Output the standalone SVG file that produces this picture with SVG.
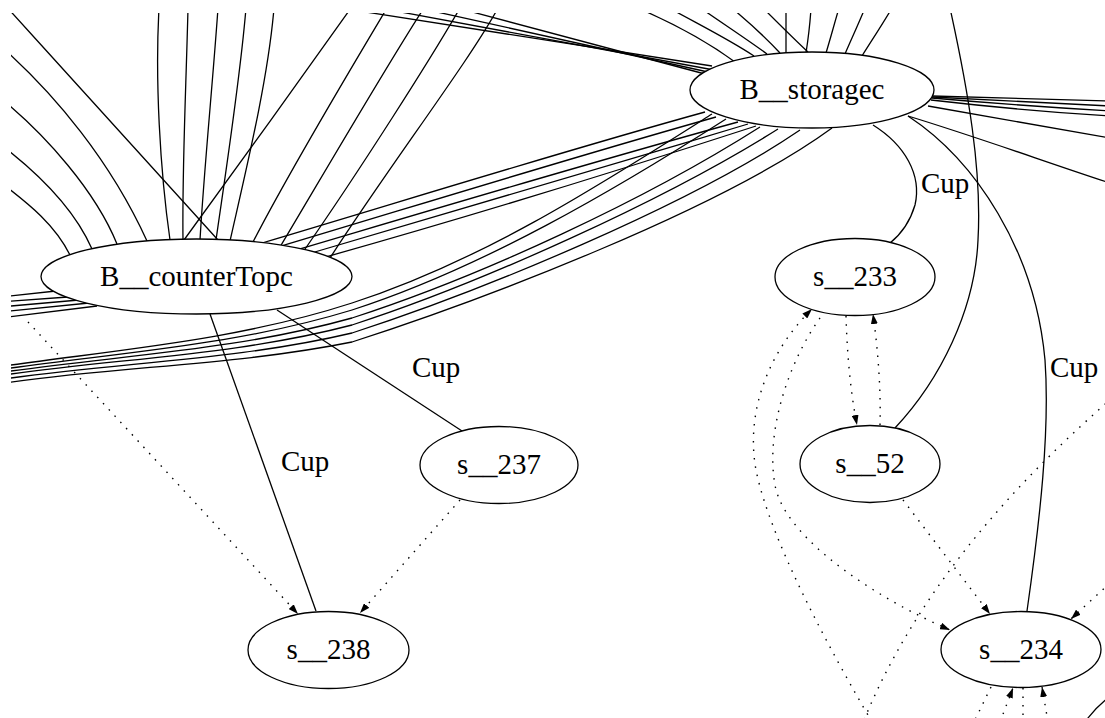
<svg xmlns="http://www.w3.org/2000/svg" width="1105" height="718" viewBox="0 0 1105 718">
  <style>
    .e { fill: none; stroke: #000; stroke-width: 1.3; }
    .d { fill: none; stroke: #000; stroke-width: 1.4; stroke-dasharray: 1.5 7; }
    .n ellipse { fill: #fff; stroke: #000; stroke-width: 1.3; }
    .n text { font-family: "Liberation Serif", "Times New Roman", serif; font-size: 29px; text-anchor: middle; fill: #000; }
    .lbl { font-family: "Liberation Serif", "Times New Roman", serif; font-size: 29px; fill: #000; }
  </style>
  <defs>
    <marker id="arr" viewBox="0 0 10 7" markerWidth="10" markerHeight="7" refX="10" refY="3.5" orient="auto" markerUnits="userSpaceOnUse">
      <path d="M0,0 L10,3.5 L0,7 z" fill="#000"/>
    </marker>
    <clipPath id="frame">
      <rect x="11" y="13" width="1100" height="710"/>
    </clipPath>
  </defs>
  <rect width="1105" height="718" fill="#fff"/>

  <g id="edges" clip-path="url(#frame)">
    <!-- fan from the upper left into B__counterTopc -->
    <path class="e" d="M 4 4 C 80 88, 160 175, 218 240"/>
    <path class="e" d="M 4 49 C 55 95, 110 160, 147 241"/>
    <path class="e" d="M 4 101 C 45 135, 95 190, 117 244"/>
    <path class="e" d="M 4 147 C 40 175, 75 210, 92 249"/>
    <path class="e" d="M 4 185 C 30 205, 55 225, 70 255"/>
    <!-- near-vertical strands into B__counterTopc -->
    <path class="e" d="M 159 8 C 155 80, 160 170, 170 240"/>
    <path class="e" d="M 188 8 C 186 90, 182 170, 183 240"/>
    <path class="e" d="M 218 8 C 213 80, 204 170, 200 240"/>
    <path class="e" d="M 246 8 C 240 80, 226 170, 216 240"/>
    <path class="e" d="M 274 8 C 268 80, 246 170, 230 241"/>
    <path class="e" d="M 351 8 C 300 80, 235 170, 184 240"/>
    <!-- strands from the top into the upper right of B__counterTopc -->
    <path class="e" d="M 387 8 C 350 70, 290 170, 253 242"/>
    <path class="e" d="M 424 8 C 390 60, 320 180, 280 247"/>
    <path class="e" d="M 460 8 C 430 60, 360 170, 303 252"/>
    <path class="e" d="M 498 8 C 470 60, 390 165, 330 258"/>
    <!-- shallow strands from the top into B__storagec -->
    <path class="e" d="M 353 10 L 712 66"/>
    <path class="e" d="M 390 10 L 714 70"/>
    <path class="e" d="M 428 10 L 717 74"/>
    <path class="e" d="M 465 10 L 720 78"/>
    <!-- strands from the top into B__storagec -->
    <path class="e" d="M 640 9 C 670 22, 705 40, 735 62"/>
    <path class="e" d="M 671 9 C 700 25, 730 40, 754 56"/>
    <path class="e" d="M 702 9 C 725 25, 748 40, 767 54"/>
    <path class="e" d="M 733 9 C 752 25, 768 40, 780 53"/>
    <path class="e" d="M 764 9 C 780 25, 795 40, 808 52"/>
    <path class="e" d="M 786 8 L 786 53"/>
    <path class="e" d="M 811 8 C 810 25, 808 40, 806 53"/>
    <path class="e" d="M 839 8 C 834 25, 830 40, 826 53"/>
    <path class="e" d="M 865 8 C 858 25, 851 40, 845 54"/>
    <path class="e" d="M 892 8 C 882 25, 872 40, 862 56"/>
    <!-- strands leaving B__storagec to the right -->
    <path class="e" d="M 932 96 C 1000 98, 1060 100, 1110 101"/>
    <path class="e" d="M 932 97 C 1000 101, 1060 104, 1110 106"/>
    <path class="e" d="M 932 98 C 1000 104, 1060 108, 1110 111"/>
    <path class="e" d="M 931 100 C 1000 108, 1060 113, 1110 116"/>
    <path class="e" d="M 928 106 C 990 117, 1050 128, 1110 138"/>
    <path class="e" d="M 908 116 C 980 138, 1040 160, 1110 183"/>
    <!-- B__storagec to B__counterTopc -->
    <path class="e" d="M 705 112 C 560 152, 400 202, 262 243"/>
    <path class="e" d="M 716 117 C 570 158, 412 207, 278 247"/>
    <path class="e" d="M 738 122 C 585 164, 425 212, 293 251"/>
    <path class="e" d="M 748 124 C 595 170, 437 217, 308 254"/>
    <path class="e" d="M 756 126 C 605 175, 450 222, 322 258"/>
    <!-- B__storagec strands running below B__counterTopc to the left -->
    <path class="e" d="M 712 114 C 600 185, 482 261, 352 303 C 238 340, 124 349, 4 366"/>
    <path class="e" d="M 726 119 C 615 190, 482 268, 352 310 C 238 345, 124 352, 4 369"/>
    <path class="e" d="M 760 127 C 645 200, 482 276, 352 318 C 238 350, 124 355, 4 372"/>
    <path class="e" d="M 778 129 C 665 200, 482 283, 352 325 C 238 355, 124 358, 4 375"/>
    <path class="e" d="M 800 130 C 690 205, 482 291, 352 333 C 238 360, 124 362, 4 379"/>
    <path class="e" d="M 832 128 C 720 210, 482 300, 352 342 C 238 365, 124 366, 4 383"/>
    <!-- strands from the left into B__counterTopc -->
    <path class="e" d="M 0 297 L 56 291"/>
    <path class="e" d="M 0 302 L 68 297"/>
    <path class="e" d="M 0 307 L 79 300"/>
    <path class="e" d="M 0 312 L 89 303"/>
    <path class="e" d="M 0 318 L 97 306"/>
    <!-- Cup edges -->
    <path class="e" d="M 873 125 C 905 145, 922 175, 915 205 C 910 222, 900 235, 890 243"/>
    <path class="e" d="M 908 116 C 975 160, 1035 250, 1045 360 C 1050 430, 1040 520, 1027 611"/>
    <path class="e" d="M 210 314 L 316 611"/>
    <path class="e" d="M 277 310 L 462 431"/>
    <!-- long strand from the top into s__52 -->
    <path class="e" d="M 950 8 C 968 90, 982 170, 978 240 C 975 310, 940 380, 895 428"/>
    <!-- solid strand at the lower right corner -->
    <path class="e" d="M 1085 722 Q 1095 708, 1108 698"/>

    <!-- dotted edges -->
    <path class="d" d="M 28 322 L 298 614" marker-end="url(#arr)"/>
    <path class="d" d="M 460 500 L 360 613" marker-end="url(#arr)"/>
    <path class="d" d="M 846 316 C 847 350, 850 390, 857 425" marker-end="url(#arr)"/>
    <path class="d" d="M 880 425 C 881 390, 878 350, 873 314" marker-end="url(#arr)"/>
    <path class="d" d="M 872 722 C 830 650, 770 540, 756 470 C 745 410, 770 350, 812 309" marker-end="url(#arr)"/>
    <path class="d" d="M 820 318 C 790 360, 765 430, 775 485 C 785 540, 880 600, 950 630" marker-end="url(#arr)"/>
    <path class="d" d="M 903 500 L 990 614" marker-end="url(#arr)"/>
    <path class="d" d="M 1112 398 C 1030 470, 920 580, 862 725"/>
    <path class="d" d="M 1110 583 L 1071 619" marker-end="url(#arr)"/>
    <path class="d" d="M 991 687 L 974 722"/>
    <path class="d" d="M 1000 722 L 1013 688" marker-end="url(#arr)"/>
    <path class="d" d="M 1023 688 L 1023 722"/>
    <path class="d" d="M 1048 722 L 1042 687" marker-end="url(#arr)"/>

    <!-- edge labels -->
    <text class="lbl" x="921" y="193">Cup</text>
    <text class="lbl" x="412" y="377">Cup</text>
    <text class="lbl" x="281" y="471">Cup</text>
    <text class="lbl" x="1050" y="377">Cup</text>
  </g>

  <g id="B__counterTopc" class="n">
    <ellipse cx="196.5" cy="276.5" rx="155.5" ry="37.5"/>
    <text x="196.5" y="285.5">B__counterTopc</text>
  </g>
  <g id="B__storagec" class="n">
    <ellipse cx="812" cy="90" rx="122" ry="38"/>
    <text x="812" y="99">B__storagec</text>
  </g>
  <g id="s__233" class="n">
    <ellipse cx="855" cy="277" rx="80" ry="38.5"/>
    <text x="855" y="286">s__233</text>
  </g>
  <g id="s__237" class="n">
    <ellipse cx="499" cy="465" rx="79" ry="38.5"/>
    <text x="499" y="474">s__237</text>
  </g>
  <g id="s__52" class="n">
    <ellipse cx="870" cy="464" rx="70" ry="38.5"/>
    <text x="870" y="473">s__52</text>
  </g>
  <g id="s__238" class="n">
    <ellipse cx="328.5" cy="650" rx="80.5" ry="38.5"/>
    <text x="328.5" y="659">s__238</text>
  </g>
  <g id="s__234" class="n">
    <ellipse cx="1021" cy="649.5" rx="80" ry="38"/>
    <text x="1021" y="658.5">s__234</text>
  </g>
</svg>
